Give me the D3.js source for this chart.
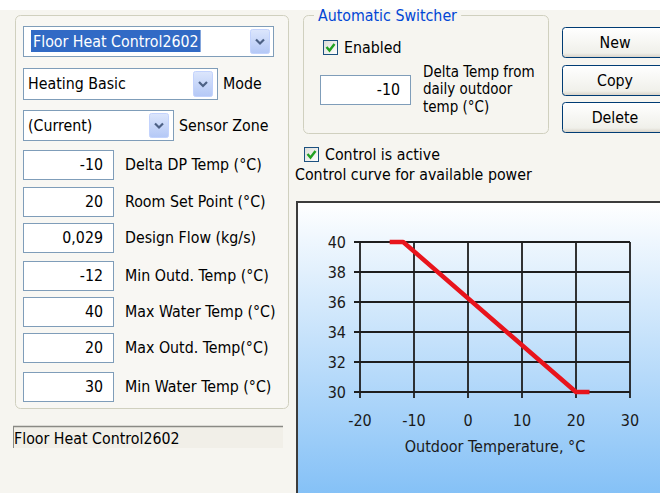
<!DOCTYPE html>
<html><head><meta charset="utf-8">
<script src="https://cdn.jsdelivr.net/npm/d3@7/dist/d3.min.js"></script>
<style>
html,body{margin:0;padding:0;background:#f6f5f0;}
svg{display:block;}
text{font-family:"DejaVu Sans Condensed","Noto Sans",sans-serif;}
</style></head>
<body>
<svg id="c" width="660" height="493"></svg>
<script>
// ---- data ----
const xTicks = [-20, -10, 0, 10, 20, 30];
const yTicks = [30, 32, 34, 36, 38, 40];
const curveOutdoor = [-14.5, -12, 20, 22.5];
const curveWater = [40, 40, 30, 30];
const fieldValues = ["-10", "20", "0,029", "-12", "40", "20", "30"];
const fieldLabels = ["Delta DP Temp (°C)", "Room Set Point (°C)", "Design Flow (kg/s)",
  "Min Outd. Temp (°C)", "Max Water Temp (°C)", "Max Outd. Temp(°C)", "Min Water Temp (°C)"];
const combos = ["Floor Heat Control2602", "Heating Basic", "(Current)"];
const comboLabels = ["", "Mode", "Sensor Zone"];
const buttons = ["New", "Copy", "Delete"];
const switcherLines = ["Delta Temp from", "daily outdoor", "temp (°C)"];
const xTitle = "Outdoor Temperature, °C";

const svg = d3.select("#c");
const defs = svg.append("defs");
const FS = 15.8;
const TFS = 16;

// gradients
const g1 = defs.append("linearGradient").attr("id","chartBg").attr("x1",0).attr("y1",0).attr("x2",0).attr("y2",1);
g1.append("stop").attr("offset","0%").attr("stop-color","#ffffff");
g1.append("stop").attr("offset","100%").attr("stop-color","#7dbdf6");
const g2 = defs.append("linearGradient").attr("id","btnBg").attr("x1",0).attr("y1",0).attr("x2",0).attr("y2",1);
g2.append("stop").attr("offset","0%").attr("stop-color","#ffffff");
g2.append("stop").attr("offset","85%").attr("stop-color","#f0f0ea");
g2.append("stop").attr("offset","100%").attr("stop-color","#d6d0c5");
const g3 = defs.append("linearGradient").attr("id","arrBg").attr("x1",0).attr("y1",0).attr("x2",0).attr("y2",1);
g3.append("stop").attr("offset","0%").attr("stop-color","#dce6fc");
g3.append("stop").attr("offset","100%").attr("stop-color","#b4c8f6");
const g4 = defs.append("linearGradient").attr("id","chkBg").attr("x1",0).attr("y1",0).attr("x2",1).attr("y2",1);
g4.append("stop").attr("offset","0%").attr("stop-color","#dcdcd7");
g4.append("stop").attr("offset","100%").attr("stop-color","#ffffff");

// top white strip
svg.append("rect").attr("x",0).attr("y",0).attr("width",660).attr("height",10).attr("fill","#ffffff");

// ---- left group box ----
svg.append("rect").attr("x",15.5).attr("y",15.5).attr("width",273).attr("height",393).attr("rx",5)
  .attr("fill","#f8f7f3").attr("stroke","#d0d0bf");

function textBox(x, y, w, h, val) {
  svg.append("rect").attr("x",x+0.5).attr("y",y+0.5).attr("width",w).attr("height",h)
    .attr("fill","#ffffff").attr("stroke","#7f9db9");
  svg.append("text").attr("x",x+w-10).attr("y",y+h/2+5.5).attr("text-anchor","end")
    .attr("font-size",FS).attr("fill","#000").text(val);
}
function arrowBtn(x, y, w, h) {
  svg.append("rect").attr("x",x+0.5).attr("y",y+0.5).attr("width",w).attr("height",h).attr("rx",2)
    .attr("fill","url(#arrBg)").attr("stroke","#c3d3fd");
  const cx = x + w/2 + 0.5, cy = y + h/2 + 0.5;
  svg.append("path").attr("d",`M${cx-4},${cy-2} L${cx},${cy+2} L${cx+4},${cy-2}`)
    .attr("fill","none").attr("stroke","#4d6185").attr("stroke-width",2.2);
}

// combos
const comboGeo = [
  {x:23, y:26, w:250, h:30, ax:250},
  {x:23, y:68, w:194, h:31, ax:193},
  {x:23, y:110, w:150, h:30, ax:149}
];
combos.forEach((c,i) => {
  const g = comboGeo[i];
  svg.append("rect").attr("x",g.x+0.5).attr("y",g.y+0.5).attr("width",g.w).attr("height",g.h)
    .attr("fill","#ffffff").attr("stroke","#7f9db9");
  if (i === 0) {
    const t = svg.append("text").attr("x",g.x+10).attr("y",g.y+g.h/2+5.5).attr("font-size",FS).text(c);
    const bb = t.node().getBBox();
    svg.insert("rect", () => t.node()).attr("x",g.x+8).attr("y",g.y+4).attr("width",bb.width+4).attr("height",g.h-8)
      .attr("fill","#316ac5");
    t.attr("fill","#ffffff");
  } else {
    svg.append("text").attr("x",g.x+5).attr("y",g.y+g.h/2+5.5).attr("font-size",FS).attr("fill","#000").text(c);
  }
  arrowBtn(g.ax, g.y+3, 19, g.h-6);
  if (comboLabels[i]) svg.append("text").attr("x",g.x+g.w+6).attr("y",g.y+g.h/2+5.5)
    .attr("font-size",FS).attr("fill","#000").text(comboLabels[i]);
});

// fields
const fieldTop = [150, 187, 223, 261, 297, 333, 372];
fieldValues.forEach((v,i) => {
  textBox(23, fieldTop[i], 90, 29, v);
  svg.append("text").attr("x",125).attr("y",fieldTop[i]+20).attr("font-size",FS).attr("fill","#000").text(fieldLabels[i]);
});

// status bar
svg.append("rect").attr("x",13).attr("y",426).attr("width",270).attr("height",22).attr("fill","#f1efe8");
svg.append("line").attr("x1",13).attr("x2",283).attr("y1",426.5).attr("y2",426.5).attr("stroke","#8a8a85").attr("stroke-width",1.5);
svg.append("line").attr("x1",13.5).attr("x2",13.5).attr("y1",426).attr("y2",448).attr("stroke","#8a8a85");
svg.append("text").attr("x",14).attr("y",444).attr("font-size",FS).attr("fill","#000").text(combos[0]);

// ---- automatic switcher group ----
svg.append("rect").attr("x",303.5).attr("y",15.5).attr("width",245).attr("height",118).attr("rx",5)
  .attr("fill","none").attr("stroke","#d0d0bf");
const title = svg.append("text").attr("x",318).attr("y",21).attr("font-size",FS).attr("fill","#0046d5").text("Automatic Switcher");
const tb = title.node().getBBox();
svg.insert("rect", () => title.node()).attr("x",314).attr("y",10).attr("width",tb.width+8).attr("height",12).attr("fill","#f6f5f0");

function checkBox(x, y, label) {
  svg.append("rect").attr("x",x+0.5).attr("y",y+0.5).attr("width",14).attr("height",14)
    .attr("fill","url(#chkBg)").attr("stroke","#1c5180");
  svg.append("path").attr("d",`M${x+3.5},${y+7} L${x+6.5},${y+10.5} L${x+11.5},${y+4}`)
    .attr("fill","none").attr("stroke","#21a121").attr("stroke-width",2.4);
  svg.append("text").attr("x",x+21).attr("y",y+13).attr("font-size",FS).attr("fill","#000").text(label);
}
checkBox(323, 40, "Enabled");
textBox(320, 75, 90, 29, "-10");
switcherLines.forEach((s,i) => {
  svg.append("text").attr("x",423).attr("y",76.5+i*17.5).attr("font-size",15).attr("fill","#000").text(s);
});

// buttons
const btnTop = [27, 65, 102];
buttons.forEach((b,i) => {
  svg.append("rect").attr("x",562.5).attr("y",btnTop[i]+0.5).attr("width",110).attr("height",30).attr("rx",3)
    .attr("fill","url(#btnBg)").attr("stroke","#003c74");
  svg.append("text").attr("x",615).attr("y",btnTop[i]+20.5).attr("text-anchor","middle")
    .attr("font-size",FS).attr("fill","#000").text(b);
});

checkBox(304, 147, "Control is active");
svg.append("text").attr("x",295).attr("y",180).attr("font-size",FS).attr("fill","#000").text("Control curve for available power");

// ---- chart panel ----
svg.append("rect").attr("x",297).attr("y",202).attr("width",380).attr("height",310)
  .attr("fill","url(#chartBg)").attr("stroke","#3c3c3c").attr("stroke-width",2);

const x = d3.scaleLinear().domain([-20, 30]).range([360, 630]);
const y = d3.scaleLinear().domain([30, 40]).range([392, 242]);
const gridC = "#1e1e1e";
const chart = svg.append("g");

chart.selectAll("line.h").data(yTicks).join("line").attr("class","h")
  .attr("x1", x(-20) - 6).attr("x2", x(30))
  .attr("y1", d => y(d)).attr("y2", d => y(d))
  .attr("stroke", gridC).attr("stroke-width", 1.8);
chart.selectAll("line.v").data(xTicks).join("line").attr("class","v")
  .attr("x1", d => x(d)).attr("x2", d => x(d))
  .attr("y1", y(40)).attr("y2", y(30) + 6)
  .attr("stroke", gridC).attr("stroke-width", 1.8);

chart.selectAll("text.yl").data(yTicks).join("text").attr("class","yl")
  .attr("x", x(-20) - 14).attr("y", d => y(d) + 5.5).attr("text-anchor","end")
  .attr("font-size", TFS).attr("fill","#1a1a1a").text(d => d);
chart.selectAll("text.xl").data(xTicks).join("text").attr("class","xl")
  .attr("x", d => x(d)).attr("y", 426).attr("text-anchor","middle")
  .attr("font-size", TFS).attr("fill","#1a1a1a").text(d => d);
chart.append("text").attr("x", x(5)).attr("y", 452).attr("text-anchor","middle")
  .attr("font-size", TFS).attr("fill","#1a1a1a").text(xTitle);

const line = d3.line().x((d,i) => x(curveOutdoor[i])).y(d => y(d));
chart.append("path").attr("d", line(curveWater)).attr("fill","none")
  .attr("stroke","#e8141c").attr("stroke-width",4.5).attr("stroke-linejoin","round");
</script>
</body></html>
